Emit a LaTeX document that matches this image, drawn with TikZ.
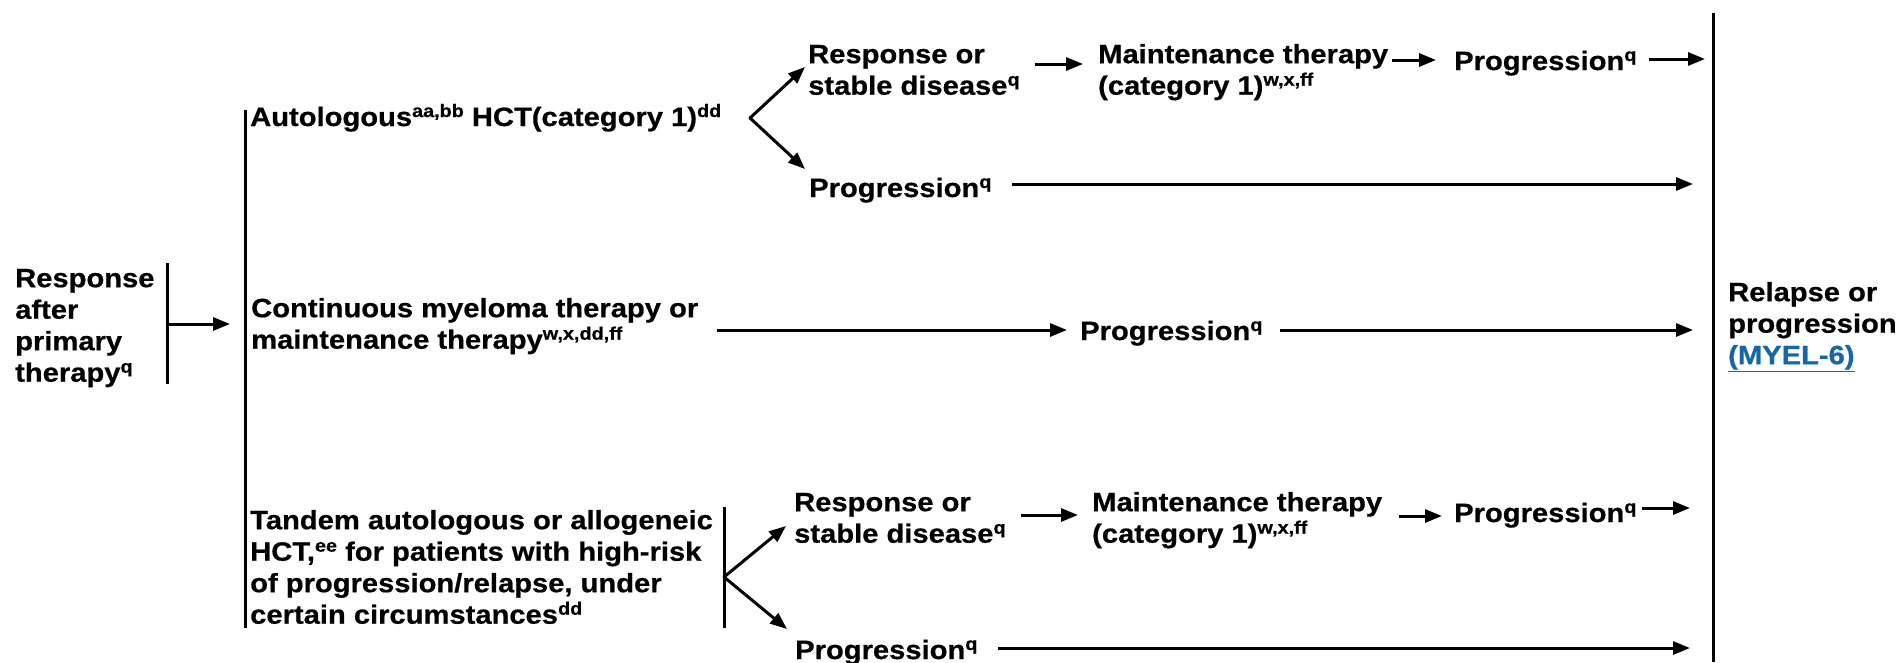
\documentclass[tikz,border=0pt]{standalone}
\usepackage{fontspec}
\setmainfont{Liberation Sans}[FakeStretch=1.10, BoldFeatures={FakeBold=0.6}]
\usetikzlibrary{arrows.meta}
\definecolor{linkblue}{RGB}{18,104,170}
\newcommand\sps[1]{\raisebox{9pt}[0pt][0pt]{\fontsize{18}{18}\selectfont #1}}
\newcommand\fs{\fontsize{26.5}{31.5}\selectfont\bfseries}
\begin{document}
\begin{tikzpicture}[x=1pt,y=-1pt,
  lbl/.style={inner sep=0pt, font=\fs, anchor=base west},
  mlbl/.style={inner sep=0pt, font=\fs, anchor=north west, align=left},
  arr/.style={line width=3pt, -{Triangle[length=17pt,width=13pt]}},
  darr/.style={arr, line cap=round},
  bar/.style={line width=3pt}]
\useasboundingbox (0,0) rectangle (1902,662);
% texts (multi-line nodes: top = first baseline - 22.05)
\node[mlbl] (resp0) at (15,264.95) {\strut Response\\after\\primary\\therapy\sps{q}};
\node[lbl] (auto) at (250,126) {Autologous\sps{aa,bb} HCT(category 1)\sps{dd}};
\node[mlbl] (r1) at (808,40.95) {\strut Response or\\stable disease\sps{q}};
\node[mlbl] (m1) at (1098,40.95) {\strut Maintenance therapy\\(category 1)\sps{w,x,ff}};
\node[lbl] (p1) at (1454,70) {Progression\sps{q}};
\node[lbl] (p1b) at (809,197) {Progression\sps{q}};
\node[mlbl] (cont) at (251,294.95) {\strut Continuous myeloma therapy or\\maintenance therapy\sps{w,x,dd,ff}};
\node[lbl] (p2) at (1080,340) {Progression\sps{q}};
\node[mlbl] (tand) at (250,506.95) {\strut Tandem autologous or allogeneic\\HCT,\sps{ee} for patients with high-risk\\of progression/relapse, under\\certain circumstances\sps{dd}};
\node[mlbl] (r3) at (794,488.95) {\strut Response or\\stable disease\sps{q}};
\node[mlbl] (m3) at (1092,488.95) {\strut Maintenance therapy\\(category 1)\sps{w,x,ff}};
\node[lbl] (p3) at (1454,522) {Progression\sps{q}};
\node[lbl] (p3b) at (795,659) {Progression\sps{q}};
\node[mlbl] (rel) at (1728,278.95) {\strut Relapse or\\progression\\{\color{linkblue}\underline{(MYEL-6)}}};
% bars
\coordinate (b0t) at (167,263); \coordinate (b0b) at (167,384);
\coordinate (bmt) at (245,110); \coordinate (bmb) at (245,628);
\coordinate (btt) at (724,507); \coordinate (btb) at (724,628);
\coordinate (brt) at (1713,13); \coordinate (brb) at (1713,662);
\draw[bar] (b0t) -- (b0b);
\draw[bar] (bmt) -- (bmb);
\draw[bar] (btt) -- (btb);
\draw[bar] (brt) -- (brb);
% connectors
\coordinate (a0s) at (167,324); \coordinate (a0e) at (230,324);
\draw[arr] (a0s) -- (a0e);
\coordinate (v1) at (750,118);
\coordinate (v1u) at (805,67); \coordinate (v1d) at (805,169);
\draw[darr] (v1) -- (v1u);
\draw[darr] (v1) -- (v1d);
\coordinate (a1s) at (1035,64); \coordinate (a1e) at (1083,64);
\draw[arr] (a1s) -- (a1e);
\coordinate (a2s) at (1392,60); \coordinate (a2e) at (1436,60);
\draw[arr] (a2s) -- (a2e);
\coordinate (a3s) at (1649,59); \coordinate (a3e) at (1705,59);
\draw[arr] (a3s) -- (a3e);
\coordinate (a4s) at (1012,184); \coordinate (a4e) at (1693,184);
\draw[arr] (a4s) -- (a4e);
\coordinate (a5s) at (717,330); \coordinate (a5e) at (1067,330);
\draw[arr] (a5s) -- (a5e);
\coordinate (a6s) at (1280,330); \coordinate (a6e) at (1693,330);
\draw[arr] (a6s) -- (a6e);
\coordinate (v3) at (724,577);
\coordinate (v3u) at (786,526); \coordinate (v3d) at (787,629);
\draw[darr] (v3) -- (v3u);
\draw[darr] (v3) -- (v3d);
\coordinate (a7s) at (1021,515); \coordinate (a7e) at (1078,515);
\draw[arr] (a7s) -- (a7e);
\coordinate (a8s) at (1399,516); \coordinate (a8e) at (1442,516);
\draw[arr] (a8s) -- (a8e);
\coordinate (a9s) at (1642,508); \coordinate (a9e) at (1690,508);
\draw[arr] (a9s) -- (a9e);
\coordinate (a10s) at (998,648); \coordinate (a10e) at (1690,648);
\draw[arr] (a10s) -- (a10e);
\end{tikzpicture}
\end{document}
